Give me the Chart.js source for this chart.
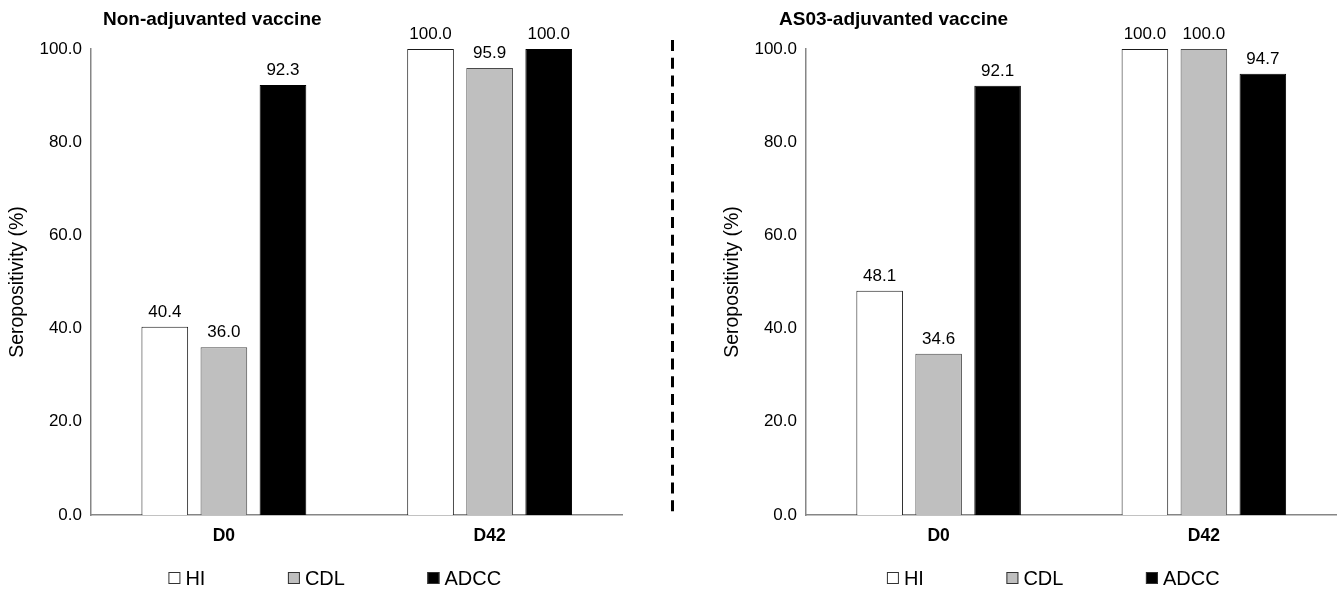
<!DOCTYPE html>
<html>
<head>
<meta charset="utf-8">
<script src="https://cdn.jsdelivr.net/npm/chart.js@4.4.0/dist/chart.umd.min.js"></script>
<style>
  html, body { margin: 0; padding: 0; background: #fff; overflow: hidden; }
  #wrap { position: relative; width: 1340px; height: 591px; }
  .panel { position: absolute; top: 0; width: 660px; height: 591px; }
  #leftPanel { left: 0; }
  #rightPanel { left: 680px; }
  #divider { position: absolute; left: 0; top: 0; }
</style>
</head>
<body>
<div id="wrap">
  <div class="panel" id="leftPanel"><canvas id="leftChart" width="660" height="591"></canvas></div>
  <div class="panel" id="rightPanel"><canvas id="rightChart" width="660" height="591"></canvas></div>
  <svg id="divider" width="1340" height="591">
    <line x1="672.5" y1="40" x2="672.5" y2="518" stroke="#000" stroke-width="3" stroke-dasharray="11 6.7"/>
  </svg>
</div>
<script>
// categories and series
const categories = ['D0', 'D42'];
const seriesNames = ['HI', 'CDL', 'ADCC'];

// non-adjuvanted vaccine
const nonAdjHI = [40.4, 100.0];
const nonAdjCDL = [36.0, 95.9];
const nonAdjADCC = [92.3, 100.0];

// AS03-adjuvanted vaccine
const as03HI = [48.1, 100.0];
const as03CDL = [34.6, 100.0];
const as03ADCC = [92.1, 94.7];

// y axis
const yMin = 0;
const yMax = 100;
const yStep = 20;
const yTitle = 'Seropositivity (%)';

Chart.defaults.font.family = "'Liberation Sans', Arial, sans-serif";
Chart.defaults.color = '#000';

const seriesFill = ['#ffffff', '#bfbfbf', '#000000'];
const seriesBorder = ['#1a1a1a', '#4a4a4a', '#000000'];

// values above the bars
const valueLabels = {
  id: 'valueLabels',
  afterDatasetsDraw(chart) {
    const ctx = chart.ctx;
    ctx.save();
    ctx.font = "17px 'Liberation Sans', Arial, sans-serif";
    ctx.fillStyle = '#000';
    ctx.textAlign = 'center';
    ctx.textBaseline = 'alphabetic';
    chart.data.datasets.forEach((ds, i) => {
      chart.getDatasetMeta(i).data.forEach((bar, j) => {
        ctx.fillText(ds.data[j].toFixed(1), bar.x, bar.y - 10);
      });
    });
    ctx.restore();
  }
};

// bold panel title
const panelTitle = {
  id: 'panelTitle',
  afterDraw(chart, args, opts) {
    const ctx = chart.ctx;
    ctx.save();
    ctx.font = "bold 19px 'Liberation Sans', Arial, sans-serif";
    ctx.fillStyle = '#000';
    ctx.textAlign = 'left';
    ctx.textBaseline = 'alphabetic';
    ctx.fillText(opts.text, opts.x, 25);
    ctx.restore();
  }
};

// legend row under the axis
const bottomLegend = {
  id: 'bottomLegend',
  afterDraw(chart, args, opts) {
    const ctx = chart.ctx;
    const box = 12, gap = 5, spacing = 82.5;
    ctx.save();
    ctx.font = "20px 'Liberation Sans', Arial, sans-serif";
    const items = chart.data.datasets.map(ds => ({
      ds, w: box + gap + ctx.measureText(ds.label).width
    }));
    const total = items.reduce((s, it) => s + it.w, 0) + spacing * (items.length - 1);
    const area = chart.chartArea;
    let x = (area.left + area.right) / 2 + opts.offset - total / 2;
    const y = 578;
    items.forEach(it => {
      ctx.fillStyle = it.ds.backgroundColor;
      ctx.fillRect(x, y - box / 2, box, box);
      ctx.strokeStyle = '#333';
      ctx.lineWidth = 1;
      ctx.strokeRect(x + 0.5, y - box / 2 + 0.5, box - 1, box - 1);
      ctx.fillStyle = '#000';
      ctx.textAlign = 'left';
      ctx.textBaseline = 'middle';
      ctx.fillText(it.ds.label, x + box + gap, y + 1);
      x += it.w + spacing;
    });
    ctx.restore();
  }
};

function makeChart(id, title, hi, cdl, adcc, lay) {
  const values = [hi, cdl, adcc];
  return new Chart(document.getElementById(id), {
    type: 'bar',
    data: {
      labels: categories,
      datasets: seriesNames.map((name, i) => ({
        label: name,
        data: values[i],
        backgroundColor: seriesFill[i],
        borderColor: seriesBorder[i],
        borderWidth: 1,
        categoryPercentage: 0.667,
        barPercentage: 0.79
      }))
    },
    options: {
      responsive: false,
      animation: false,
      layout: { padding: { left: lay.padLeft, right: lay.padRight, top: 49, bottom: 40 } },
      plugins: {
        legend: { display: false },
        tooltip: { enabled: false },
        panelTitle: { text: title, x: lay.titleX },
        bottomLegend: { offset: lay.legendOffset }
      },
      scales: {
        x: {
          grid: { display: false, drawTicks: false },
          border: { color: '#868686', width: 1.5 },
          ticks: { padding: 11, font: { size: 17.5, weight: 'bold' } },
          afterFit: s => { s.height = 36; }
        },
        y: {
          min: yMin,
          max: yMax,
          grid: { display: false, drawTicks: false },
          border: { color: '#868686', width: 1.5 },
          ticks: {
            stepSize: yStep,
            padding: 9,
            font: { size: 17 },
            callback: v => v.toFixed(1)
          },
          title: {
            display: true,
            text: yTitle,
            font: { size: 19.5 },
            padding: { top: lay.titlePad, bottom: 0 }
          },
          afterFit: s => { s.width = lay.yWidth; }
        }
      }
    },
    plugins: [valueLabels, panelTitle, bottomLegend]
  });
}

makeChart('leftChart', 'Non-adjuvanted vaccine', nonAdjHI, nonAdjCDL, nonAdjADCC,
  { padLeft: 0, padRight: 37.5, yWidth: 91, titlePad: 6, titleX: 103, legendOffset: -22 });

makeChart('rightChart', 'AS03-adjuvanted vaccine', as03HI, as03CDL, as03ADCC,
  { padLeft: 41, padRight: 3.5, yWidth: 85, titlePad: 0, titleX: 99, legendOffset: -18 });
</script>
</body>
</html>
